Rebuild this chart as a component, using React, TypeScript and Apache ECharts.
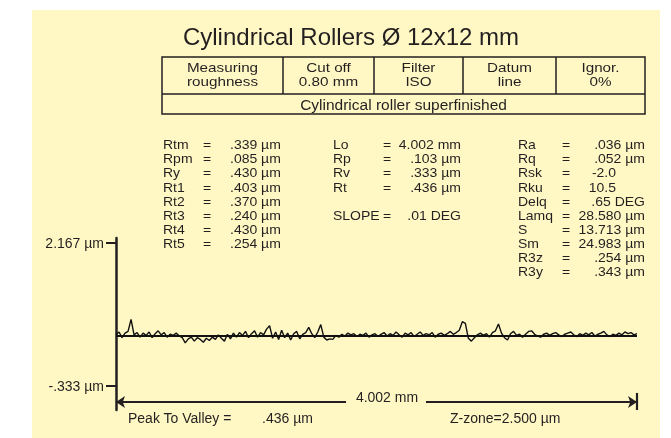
import React, { useEffect, useRef } from "react";
import * as echarts from "echarts";

// ---- data ----
const TITLE = "Cylindrical Rollers Ø 12x12 mm";
const TABLE_HEAD = [
  ["Measuring", "roughness"],
  ["Cut off", "0.80 mm"],
  ["Filter", "ISO"],
  ["Datum", "line"],
  ["Ignor.", "0%"],
];
const TABLE_NOTE = "Cylindrical roller superfinished";

const LEFT_LABELS = ["Rtm", "Rpm", "Ry", "Rt1", "Rt2", "Rt3", "Rt4", "Rt5"];
const LEFT_VALUES = [".339 µm", ".085 µm", ".430 µm", ".403 µm", ".370 µm", ".240 µm", ".430 µm", ".254 µm"];
const MID_LABELS = ["Lo", "Rp", "Rv", "Rt", "", "SLOPE"];
const MID_VALUES = ["4.002 mm", ".103 µm", ".333 µm", ".436 µm", "", ".01 DEG"];
const RIGHT_LABELS = ["Ra", "Rq", "Rsk", "Rku", "Delq", "Lamq", "S", "Sm", "R3z", "R3y"];
const RIGHT_VALUES = [".036 µm", ".052 µm", "-2.0", "10.5", ".65 DEG", "28.580 µm", "13.713 µm", "24.983 µm", ".254 µm", ".343 µm"];

const PEAK_TO_VALLEY = ".436 µm";
const Z_ZONE = "Z-zone=2.500 µm";
const LENGTH_MM = 4.002;
const LENGTH_LABEL = "4.002 mm";

const Y_TICKS = [-0.333, 2.167];
const Y_MIN = -0.753;
const Y_MAX = 2.254;
const P_MIN = -1.294;
const P_MAX = 1.713;
const DIM_LEVEL = -0.613;
const DIM_TICK = [-0.455, -0.753];
const DIM_GAP = [1.767, 2.381];

// roughness profile deviations from mean line (µm), sampled uniformly along 4.002 mm
const PROFILE = [
  0.02, 0.07, -0.03, 0.05, 0.08, 0.29, 0.02, 0.06, -0.02, 0.05,
  0.01, 0.07, -0.03, 0.04, 0.09, 0.02, 0.06, -0.02, 0.03, 0.01,
  0.05, 0.00, -0.03, -0.12, -0.05, -0.02, -0.09, -0.03, -0.06, -0.11,
  -0.04, -0.08, -0.02, -0.06, 0.02, -0.04, -0.09, 0.03, -0.05, 0.05,
  -0.02, 0.06, 0.01, 0.08, -0.03, 0.04, 0.09, -0.02, 0.06, 0.02,
  0.12, 0.18, -0.04, 0.07, -0.06, 0.10, -0.03, 0.05, -0.07, 0.04,
  0.08, -0.05, 0.03, 0.06, 0.15, 0.04, -0.03, 0.07, 0.20, -0.02,
  -0.07, -0.05, -0.06, 0.01, -0.02, 0.03, 0.00, 0.05, 0.02, 0.04,
  -0.01, 0.03, 0.01, 0.05, -0.02, 0.02, 0.04, -0.01, 0.03, 0.06,
  0.00, 0.04, 0.01, 0.07, 0.02, -0.02, 0.05, 0.02, 0.06, -0.01,
  0.03, 0.07, 0.01, 0.04, 0.02, 0.06, -0.02, 0.03, 0.05, 0.01,
  0.04, 0.08, 0.03, 0.06, 0.10, 0.25, 0.22, -0.04, -0.09, -0.03,
  0.02, 0.05, 0.01, 0.04, -0.02, 0.06, 0.09, 0.21, 0.05, -0.03,
  -0.07, 0.04, 0.08, 0.01, 0.03, -0.02, 0.03, 0.08, 0.09, 0.03,
  0.00, -0.02, 0.03, 0.05, 0.01, 0.04, 0.06, 0.02, -0.01, 0.03,
  0.05, 0.07, 0.02, -0.01, 0.04, 0.01, 0.05, 0.02, 0.06, 0.00,
  0.03, 0.05, 0.08, 0.02, -0.01, 0.03, 0.01, 0.05, 0.02, 0.07,
  0.04, 0.06, 0.02, 0.04,
];

// ---- styles ----
const PANEL_BG = "#FFF8C4";
const INK = "#231F20";
const FONT = '"Liberation Sans", Arial, Helvetica, sans-serif';

function txt(
  x: number,
  y: number,
  text: string,
  align: string = "left",
  size: number = 12.5,
  sx: number = 1.12
) {
  return {
    type: "text",
    x,
    y,
    scaleX: sx,
    z: 10,
    silent: true,
    style: {
      text,
      fill: INK,
      fontSize: size,
      fontFamily: FONT,
      textAlign: align,
      align,
      textVerticalAlign: "middle",
      verticalAlign: "middle",
      lineHeight: size,
    },
  };
}

function line(x1: number, y1: number, x2: number, y2: number, w = 1.5) {
  return {
    type: "line",
    z: 10,
    silent: true,
    shape: { x1, y1, x2, y2 },
    style: { stroke: INK, lineWidth: w },
  };
}

export default function App() {
  const ref = useRef<HTMLDivElement>(null);

  useEffect(() => {
    if (!ref.current) return;
    const chart = echarts.init(ref.current, null, { renderer: "svg" });

    const graphics: any[] = [];
    graphics.push({
      type: "rect",
      z: -10,
      silent: true,
      shape: { x: 32, y: 10, width: 628, height: 428 },
      style: { fill: PANEL_BG },
    });

    // table
    const tL = 162, tR = 645, tT = 57, tM = 94, tB = 114;
    const cols = [tL, 283, 374, 463, 556, tR];
    graphics.push({
      type: "rect",
      z: 10,
      silent: true,
      shape: { x: tL, y: tT, width: tR - tL, height: tB - tT },
      style: { fill: "none", stroke: INK, lineWidth: 1.5 },
    });
    graphics.push(line(tL, tM, tR, tM));
    for (let i = 1; i < cols.length - 1; i++) graphics.push(line(cols[i], tT, cols[i], tM));
    TABLE_HEAD.forEach((h, i) => {
      const cx = (cols[i] + cols[i + 1]) / 2;
      graphics.push(txt(cx, 67.5, h[0], "center", 12.5, 1.22));
      graphics.push(txt(cx, 81.5, h[1], "center", 12.5, 1.22));
    });
    graphics.push(txt((tL + tR) / 2, 104, TABLE_NOTE, "center", 15.5, 1));

    // stats
    const rowY = (i: number) => 145 + i * 14.1;
    LEFT_LABELS.forEach((l, i) => {
      graphics.push(txt(163, rowY(i), l));
      graphics.push(txt(203, rowY(i), "="));
      graphics.push(txt(230, rowY(i), LEFT_VALUES[i]));
    });
    MID_LABELS.forEach((l, i) => {
      if (!l) return;
      graphics.push(txt(333, rowY(i), l));
      graphics.push(txt(383, rowY(i), "="));
      graphics.push(txt(461, rowY(i), MID_VALUES[i], "right"));
    });
    RIGHT_LABELS.forEach((l, i) => {
      graphics.push(txt(518, rowY(i), l));
      graphics.push(txt(562, rowY(i), "="));
      const v = RIGHT_VALUES[i];
      graphics.push(txt(v.includes(" ") ? 645 : 616, rowY(i), v, "right"));
    });

    // bottom annotations
    graphics.push(txt(387, 397, LENGTH_LABEL, "center", 14, 1));
    graphics.push(txt(128, 418, "Peak To Valley =", "left", 14, 1));
    graphics.push(txt(262, 418, PEAK_TO_VALLEY, "left", 14, 1));
    graphics.push(txt(450, 418, Z_ZONE, "left", 14, 1));

    const n = PROFILE.length;
    const profileData = PROFILE.map((v, i) => [(i * LENGTH_MM) / (n - 1), v]);

    const option: any = {
      animation: false,
      title: {
        text: TITLE,
        left: 346,
        top: 19,
        textAlign: "center",
        textStyle: { fontSize: 24, fontWeight: "normal", fontFamily: FONT, color: INK },
      },
      grid: { left: 116, right: 34, top: 238, bottom: 28, containLabel: false },
      xAxis: { type: "value", min: 0, max: LENGTH_MM, show: false },
      yAxis: [
        {
          type: "value",
          min: Y_MIN,
          max: Y_MAX,
          splitLine: { show: false },
          axisLine: { show: true, lineStyle: { color: INK, width: 2.5 } },
          axisTick: { show: true, customValues: Y_TICKS, length: 10, lineStyle: { color: INK, width: 2 } },
          axisLabel: {
            show: true,
            customValues: Y_TICKS,
            margin: 12,
            color: INK,
            fontSize: 14,
            fontFamily: FONT,
            formatter: (v: number) => v.toFixed(3).replace(/^(-?)0\./, "$1.") + " µm",
          },
        },
        { type: "value", min: P_MIN, max: P_MAX, show: false, splitLine: { show: false } },
      ],
      series: [
        {
          type: "line",
          yAxisIndex: 1,
          data: profileData,
          symbol: "none",
          silent: true,
          lineStyle: { color: "#111", width: 1.4 },
          markLine: {
            silent: true,
            symbol: "none",
            label: { show: false },
            lineStyle: { color: "#111", width: 1.8, type: "solid" },
            data: [{ yAxis: 0 }],
          },
          z: 5,
        },
        {
          type: "line",
          yAxisIndex: 0,
          data: [],
          markLine: {
            silent: true,
            symbolSize: 9,
            label: { show: false },
            lineStyle: { color: INK, width: 2.2, type: "solid" },
            data: [
              [
                { coord: [0, DIM_LEVEL], symbol: "arrow" },
                { coord: [DIM_GAP[0], DIM_LEVEL], symbol: "none" },
              ],
              [
                { coord: [DIM_GAP[1], DIM_LEVEL], symbol: "none" },
                { coord: [LENGTH_MM, DIM_LEVEL], symbol: "arrow" },
              ],
              [
                { coord: [LENGTH_MM, DIM_TICK[0]], symbol: "none" },
                { coord: [LENGTH_MM, DIM_TICK[1]], symbol: "none" },
              ],
            ],
          },
        },
      ],
      graphic: { elements: graphics },
    };

    chart.setOption(option);
    return () => chart.dispose();
  }, []);

  return (
    <div
      ref={ref}
      style={{ position: "fixed", left: 0, top: 0, width: 671, height: 438 }}
    />
  );
}
